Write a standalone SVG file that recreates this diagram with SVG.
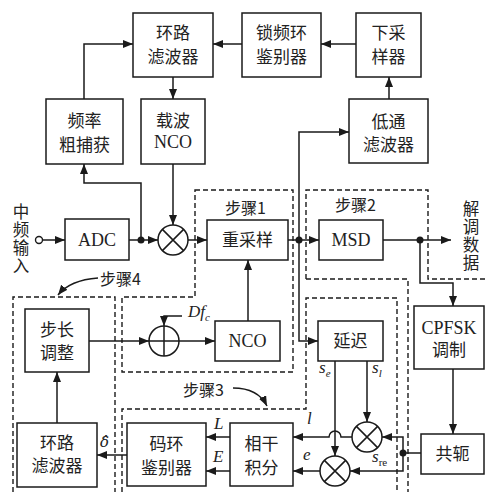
<svg xmlns="http://www.w3.org/2000/svg" width="486" height="492" viewBox="0 0 486 492">
<style>
.box{fill:#fff;stroke:#1a1a1a;stroke-width:1.5}
.ln{fill:none;stroke:#1a1a1a;stroke-width:1.5}
.ar{fill:none;stroke:#1a1a1a;stroke-width:1.5;marker-end:url(#ah)}
.dash{fill:none;stroke:#1a1a1a;stroke-width:1.4;stroke-dasharray:5,3}
.cn{font-family:"Noto Sans CJK SC",sans-serif;font-size:17px;fill:#222;text-anchor:middle}
.vt{font-family:"Noto Sans CJK SC",sans-serif;font-size:16.5px;fill:#222;writing-mode:vertical-rl;letter-spacing:1.5px}
.lt{font-family:"Liberation Serif",serif;font-size:18px;fill:#222;text-anchor:middle}
.st{font-family:"Noto Sans CJK SC",sans-serif;font-size:16px;fill:#222}
.mi{font-family:"Liberation Serif",serif;font-style:italic;font-size:17px;fill:#222}
.sb{font-size:11px}
.dot{fill:#1a1a1a}
</style>
<defs>
<marker id="ah" markerUnits="userSpaceOnUse" markerWidth="11" markerHeight="9" refX="10" refY="4" orient="auto">
<path d="M0,0 L10,4 L0,8 z" fill="#1a1a1a"/>
</marker>
</defs>
<rect width="486" height="492" fill="#fff"/>

<g id="regions">
<path class="dash" d="M195,190 H293 V372 H122 V297 H195 Z"/>
<path class="dash" d="M306,279 V190 H428 V279 H486"/>
<path class="dash" d="M306,279 H408 V492"/>
<path class="dash" d="M122,492 V409 H306 V298 H397 V492"/>
<path class="dash" d="M13,492 V297 H115 V492"/>
<text class="st" x="225" y="214">步骤1</text>
<text class="st" x="335" y="211">步骤2</text>
<text class="st" x="183" y="396">步骤3</text>
<text class="st" x="100" y="285">步骤4</text>
<path class="ar" d="M98,278 Q70,280 58,295"/>
<path class="ar" d="M233,388 Q258,388 267,406"/>
</g>

<g id="connectors">
<path class="ar" d="M356,44 H321"/>
<path class="ar" d="M242,44 H213"/>
<path class="ar" d="M389,99 V77"/>
<path class="ar" d="M299,240 V132 H349"/>
<path class="ar" d="M299,240 V341 H318"/>
<path class="ar" d="M288,240 H319"/>
<circle class="dot" cx="299" cy="240" r="3.5"/>
<path class="ar" d="M383,240 H451"/>
<circle class="dot" cx="420" cy="240" r="3.5"/>
<path class="ar" d="M420,240 V283 H453 V306"/>
<path class="ar" d="M453,369 V434"/>
<path class="ln" d="M421,453 H403"/>
<circle class="dot" cx="403" cy="453" r="3.5"/>
<path class="ar" d="M403,453 V437 H382"/>
<path class="ar" d="M403,453 V471 H350"/>
<path class="ar" d="M352,437 H341 A6,6 0 0 0 329,437 H293"/>
<path class="ar" d="M320,471 H293"/>
<path class="ar" d="M335,361 V456"/>
<path class="ar" d="M367,361 V422"/>
<path class="ar" d="M230,437 H206"/>
<path class="ar" d="M230,471 H206"/>
<path class="ar" d="M127,455 H97"/>
<path class="ar" d="M57,423 V372"/>
<path class="ar" d="M89,341 H149"/>
<path class="ar" d="M182,316 H164 V326"/>
<path class="ar" d="M179,341 H215"/>
<path class="ar" d="M248,321 V260"/>
<circle cx="39" cy="240" r="3.5" fill="#fff" stroke="#1a1a1a" stroke-width="1.4"/>
<path class="ar" d="M43,240 H65"/>
<path class="ar" d="M129,240 H158"/>
<circle class="dot" cx="141" cy="240" r="3.5"/>
<path class="ar" d="M141,240 V183 H84 V164"/>
<path class="ar" d="M84,99 V44 H133"/>
<path class="ar" d="M173,77 V99"/>
<path class="ar" d="M173,164 V225"/>
<path class="ar" d="M188,240 H207"/>
</g>

<g id="labels">
<text class="mi" x="188" y="317">Df<tspan class="sb" dy="4">c</tspan></text>
<text class="mi" x="319" y="373">s<tspan class="sb" dy="4">e</tspan></text>
<text class="mi" x="372" y="373">s<tspan class="sb" dy="4">l</tspan></text>
<text class="mi" x="307" y="424">l</text>
<text class="mi" x="303" y="460">e</text>
<text class="mi" x="372" y="462">s<tspan class="sb" dy="4" font-style="normal">re</tspan></text>
<text class="mi" x="214" y="429">L</text>
<text class="mi" x="213" y="462">E</text>
<text x="100" y="447" font-family="DejaVu Serif" font-style="italic" font-size="15" fill="#222">δ̂</text>
</g>

<g id="input">
<text class="vt" x="21" y="203">中频输入</text>
</g>
<g id="output">
<text class="vt" x="471" y="200">解调数据</text>
</g>

<g id="loopfilter1"><rect class="box" x="133" y="13" width="80" height="64"/><text class="cn" x="173" y="39">环路</text><text class="cn" x="173" y="63">滤波器</text></g>
<g id="fll"><rect class="box" x="242" y="13" width="79" height="64"/><text class="cn" x="281.5" y="39">锁频环</text><text class="cn" x="281.5" y="63">鉴别器</text></g>
<g id="downsample"><rect class="box" x="356" y="13" width="65" height="64"/><text class="cn" x="388.5" y="39">下采</text><text class="cn" x="388.5" y="63">样器</text></g>
<g id="coarse"><rect class="box" x="46" y="99" width="77" height="65"/><text class="cn" x="84.5" y="127">频率</text><text class="cn" x="84.5" y="151">粗捕获</text></g>
<g id="carriernco"><rect class="box" x="141" y="99" width="64" height="65"/><text class="cn" x="173" y="127">载波</text><text class="lt" x="173" y="148">NCO</text></g>
<g id="lpf"><rect class="box" x="349" y="99" width="79" height="64"/><text class="cn" x="388.5" y="128">低通</text><text class="cn" x="388.5" y="151">滤波器</text></g>
<g id="adc"><rect class="box" x="65" y="219" width="64" height="41"/><text class="lt" x="97" y="246">ADC</text></g>
<g id="mixer1"><circle cx="173" cy="240" r="15" fill="#fff" stroke="#1a1a1a" stroke-width="1.5"/><path class="ln" d="M162.4,229.4 L183.6,250.6 M183.6,229.4 L162.4,250.6"/></g>
<g id="resample"><rect class="box" x="207" y="220" width="81" height="40"/><text class="cn" x="247.5" y="246">重采样</text></g>
<g id="msd"><rect class="box" x="319" y="220" width="64" height="40"/><text class="lt" x="351" y="246">MSD</text></g>
<g id="steplen"><rect class="box" x="25" y="309" width="64" height="63"/><text class="cn" x="57" y="336">步长</text><text class="cn" x="57" y="359">调整</text></g>
<g id="adder"><circle cx="164" cy="341" r="15" fill="#fff" stroke="#1a1a1a" stroke-width="1.5"/><path class="ln" d="M149,341 H179 M164,326 V356"/></g>
<g id="nco"><rect class="box" x="215" y="321" width="65" height="40"/><text class="lt" x="247.5" y="347">NCO</text></g>
<g id="delay"><rect class="box" x="318" y="321" width="65" height="40"/><text class="cn" x="350.5" y="347">延迟</text></g>
<g id="cpfsk"><rect class="box" x="414" y="306" width="70" height="63"/><text class="lt" x="449" y="334">CPFSK</text><text class="cn" x="449" y="356">调制</text></g>
<g id="conj"><rect class="box" x="421" y="434" width="63" height="40"/><text class="cn" x="452.5" y="460">共轭</text></g>
<g id="loopfilter2"><rect class="box" x="17" y="423" width="80" height="64"/><text class="cn" x="57" y="449">环路</text><text class="cn" x="57" y="472">滤波器</text></g>
<g id="codedisc"><rect class="box" x="127" y="423" width="79" height="63"/><text class="cn" x="166.5" y="450">码环</text><text class="cn" x="166.5" y="474">鉴别器</text></g>
<g id="integrate"><rect class="box" x="230" y="423" width="63" height="63"/><text class="cn" x="261.5" y="450">相干</text><text class="cn" x="261.5" y="474">积分</text></g>
<g id="mixer_l"><circle cx="367" cy="437" r="15" fill="#fff" stroke="#1a1a1a" stroke-width="1.5"/><path class="ln" d="M356.4,426.4 L377.6,447.6 M377.6,426.4 L356.4,447.6"/></g>
<g id="mixer_e"><circle cx="335" cy="471" r="15" fill="#fff" stroke="#1a1a1a" stroke-width="1.5"/><path class="ln" d="M324.4,460.4 L345.6,481.6 M345.6,460.4 L324.4,481.6"/></g>
</svg>
